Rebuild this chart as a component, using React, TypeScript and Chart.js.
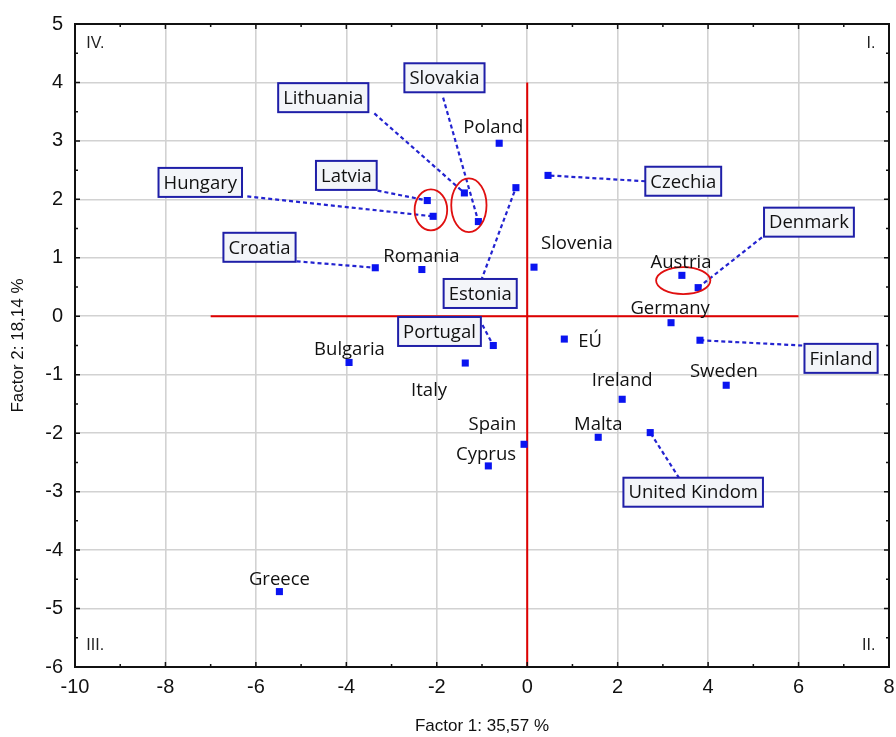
import React, { useEffect, useRef } from "react";
import { Chart, registerables } from "chart.js";

Chart.register(...registerables);

// ---- Data ----
const countries = [
  "Poland", "Czechia", "Estonia", "Lithuania", "Slovakia", "Latvia", "Hungary", "Croatia",
  "Romania", "Slovenia", "Austria", "Denmark", "Germany", "EÚ", "Finland", "Sweden",
  "Ireland", "Portugal", "Bulgaria", "Italy", "Spain", "Cyprus", "Malta", "United Kindom", "Greece",
];
const factor1 = [
  -0.62, 0.46, -0.25, -1.39, -1.08, -2.21, -2.08, -3.36,
  -2.33, 0.15, 3.42, 3.78, 3.18, 0.82, 3.82, 4.40,
  2.10, -0.75, -3.94, -1.37, -0.07, -0.86, 1.57, 2.72, -5.48,
];
const factor2 = [
  2.96, 2.41, 2.20, 2.11, 1.62, 1.98, 1.71, 0.83,
  0.80, 0.84, 0.70, 0.49, -0.11, -0.39, -0.41, -1.18,
  -1.42, -0.50, -0.79, -0.80, -2.19, -2.56, -2.07, -1.99, -4.71,
];
// label positions (in factor units), boxed flag, leader start
const labelX = [
  -0.75, 3.45, -1.04, -4.51, -1.83, -4.00, -7.23, -5.92,
  -2.34, 1.10, 3.40, 6.23, 3.16, 1.39, 6.94, 4.35,
  2.10, -1.94, -3.93, -2.17, -0.77, -0.91, 1.57, 3.67, -5.48,
];
const labelY = [
  3.25, 2.31, 0.39, 3.74, 4.08, 2.41, 2.29, 1.18,
  1.04, 1.25, 0.94, 1.61, 0.14, -0.41, -0.72, -0.94,
  -1.09, -0.26, -0.55, -1.25, -1.84, -2.36, -1.83, -3.01, -4.49,
];
const boxed = [
  false, true, true, true, true, true, true, true,
  false, false, false, true, false, false, true, false,
  false, true, false, false, false, false, false, true, false,
];
const leaderX: (number | null)[] = [
  null, 2.61, -1.02, -3.38, -1.86, -3.31, -6.19, -5.10,
  null, null, null, 5.19, null, null, 6.08, null,
  null, -0.99, null, null, null, null, null, 3.36, null,
];
const leaderY: (number | null)[] = [
  null, 2.31, 0.61, 3.47, 3.74, 2.15, 2.05, 0.94,
  null, null, null, 1.35, null, null, -0.50, null,
  null, -0.15, null, null, null, null, null, -2.77, null,
];
// red ellipses highlighting groups: centre and radii in factor units
const ellipseCX = [-2.13, -1.29, 3.45];
const ellipseCY = [1.82, 1.90, 0.61];
const ellipseRX = [0.36, 0.39, 0.60];
const ellipseRY = [0.35, 0.46, 0.23];
// red quadrant axes
const hAxisX = [-7, 6];
const vAxisY = [-6, 4];
// quadrant labels
const quadNames = ["IV.", "I.", "III.", "II."];
const quadX = [-9.75, 7.7, -9.75, 7.7];
const quadY = [4.67, 4.67, -5.64, -5.64];
const quadAlign: CanvasTextAlign[] = ["left", "right", "left", "right"];

const xMin = -10, xMax = 8, xStep = 2;
const yMin = -6, yMax = 5, yStep = 1;

const AXIS_FONT = "'Liberation Sans Narrow', 'Liberation Sans', Arial, sans-serif";
const LABEL_FONT = "'Open Sans', 'Noto Sans', sans-serif";

const overlayPlugin = {
  id: "overlay",
  afterDatasetsDraw(chart: any) {
    const { ctx, chartArea, scales } = chart;
    const xs = scales.x, ys = scales.y;
    ctx.save();
    // ellipses
    ctx.strokeStyle = "#e01010";
    ctx.lineWidth = 1.8;
    for (let i = 0; i < ellipseCX.length; i++) {
      const cx = xs.getPixelForValue(ellipseCX[i]);
      const cy = ys.getPixelForValue(ellipseCY[i]);
      const rx = Math.abs(xs.getPixelForValue(ellipseCX[i] + ellipseRX[i]) - cx);
      const ry = Math.abs(ys.getPixelForValue(ellipseCY[i] + ellipseRY[i]) - cy);
      ctx.beginPath();
      ctx.ellipse(cx, cy, rx, ry, 0, 0, Math.PI * 2);
      ctx.stroke();
    }
    // labels
    ctx.font = `18.5px ${LABEL_FONT}`;
    ctx.textAlign = "center";
    ctx.textBaseline = "middle";
    for (let i = 0; i < countries.length; i++) {
      const px = xs.getPixelForValue(labelX[i]);
      const py = ys.getPixelForValue(labelY[i]);
      if (boxed[i]) {
        const w = ctx.measureText(countries[i]).width + 10;
        const h = 29;
        ctx.fillStyle = "#f3f5f9";
        ctx.fillRect(px - w / 2, py - h / 2, w, h);
        ctx.strokeStyle = "#1f1fa8";
        ctx.lineWidth = 2;
        ctx.strokeRect(px - w / 2, py - h / 2, w, h);
      }
      ctx.fillStyle = "#111111";
      ctx.fillText(countries[i], px, py + 1);
    }
    // quadrant labels
    ctx.font = `16px 'Liberation Sans', Arial, sans-serif`;
    ctx.fillStyle = "#222";
    for (let i = 0; i < quadNames.length; i++) {
      ctx.textAlign = quadAlign[i];
      ctx.fillText(quadNames[i], xs.getPixelForValue(quadX[i]), ys.getPixelForValue(quadY[i]));
    }
    // frame
    const { left, right, top, bottom } = chartArea;
    ctx.strokeStyle = "#111";
    ctx.lineWidth = 2;
    ctx.strokeRect(left, top, right - left, bottom - top);
    // inward ticks
    ctx.lineWidth = 1.5;
    ctx.beginPath();
    for (let v = xMin; v <= xMax + 1e-9; v += xStep / 2) {
      const p = xs.getPixelForValue(v);
      const len = Math.abs(v % xStep) < 1e-9 ? 5 : 3;
      ctx.moveTo(p, bottom); ctx.lineTo(p, bottom - len);
      ctx.moveTo(p, top); ctx.lineTo(p, top + len);
    }
    for (let v = yMin; v <= yMax + 1e-9; v += yStep / 2) {
      const p = ys.getPixelForValue(v);
      const len = Math.abs(v % yStep) < 1e-9 ? 5 : 3;
      ctx.moveTo(left, p); ctx.lineTo(left + len, p);
      ctx.moveTo(right, p); ctx.lineTo(right - len, p);
    }
    ctx.stroke();
    ctx.restore();
  },
};

export default function App() {
  const ref = useRef<HTMLCanvasElement | null>(null);
  useEffect(() => {
    if (!ref.current) return;
    const leaderSets: any[] = [];
    for (let i = 0; i < countries.length; i++) {
      if (leaderX[i] === null) continue;
      leaderSets.push({
        data: [
          { x: leaderX[i], y: leaderY[i] },
          { x: factor1[i], y: factor2[i] },
        ],
        showLine: true,
        borderColor: "#2323d0",
        borderWidth: 2.2,
        borderDash: [4, 3],
        pointRadius: 0,
        order: 1,
      });
    }
    const chart = new Chart(ref.current, {
      type: "scatter",
      data: {
        datasets: [
          {
            data: countries.map((_, i) => ({ x: factor1[i], y: factor2[i] })),
            pointStyle: "rect",
            pointRadius: 5,
            pointBorderWidth: 0,
            backgroundColor: "#0a14f0",
            borderColor: "#0a14f0",
            order: 0,
          },
          ...leaderSets,
          {
            data: hAxisX.map((x) => ({ x, y: 0 })),
            showLine: true,
            borderColor: "#e00000",
            borderWidth: 2,
            pointRadius: 0,
            order: 2,
          },
          {
            data: vAxisY.map((y) => ({ x: 0, y })),
            showLine: true,
            borderColor: "#e00000",
            borderWidth: 2,
            pointRadius: 0,
            order: 2,
          },
        ],
      },
      options: {
        responsive: false,
        animation: false,
        layout: { padding: { top: 23, right: 0, left: 0, bottom: 0 } },
        plugins: { legend: { display: false }, tooltip: { enabled: false } },
        scales: {
          x: {
            type: "linear",
            min: xMin,
            max: xMax,
            ticks: { stepSize: xStep, color: "#111", padding: 8, font: { family: AXIS_FONT, size: 20 } },
            grid: { color: "#d2d2d2", lineWidth: 1.6, drawTicks: false },
            border: { display: false },
            title: {
              display: true,
              text: "Factor 1: 35,57 %",
              color: "#111",
              font: { family: AXIS_FONT, size: 17 },
              padding: { top: 0, bottom: 0 },
            },
            afterFit: (s: any) => { s.height = 70; s.paddingRight = 7; },
          },
          y: {
            type: "linear",
            min: yMin,
            max: yMax,
            ticks: { stepSize: yStep, color: "#111", padding: 12, font: { family: AXIS_FONT, size: 20 } },
            grid: { color: "#d2d2d2", lineWidth: 1.6, drawTicks: false },
            border: { display: false },
            title: {
              display: true,
              text: "Factor 2: 18,14 %",
              color: "#111",
              font: { family: AXIS_FONT, size: 17 },
              padding: { top: 8, bottom: 0 },
            },
            afterFit: (s: any) => { s.width = 75; },
          },
        },
      },
      plugins: [overlayPlugin],
    });
    return () => chart.destroy();
  }, []);
  return (
    <div style={{ position: "absolute", left: 0, top: 0, width: 896, height: 737, background: "#fff" }}>
      <canvas ref={ref} width={896} height={737} />
    </div>
  );
}
